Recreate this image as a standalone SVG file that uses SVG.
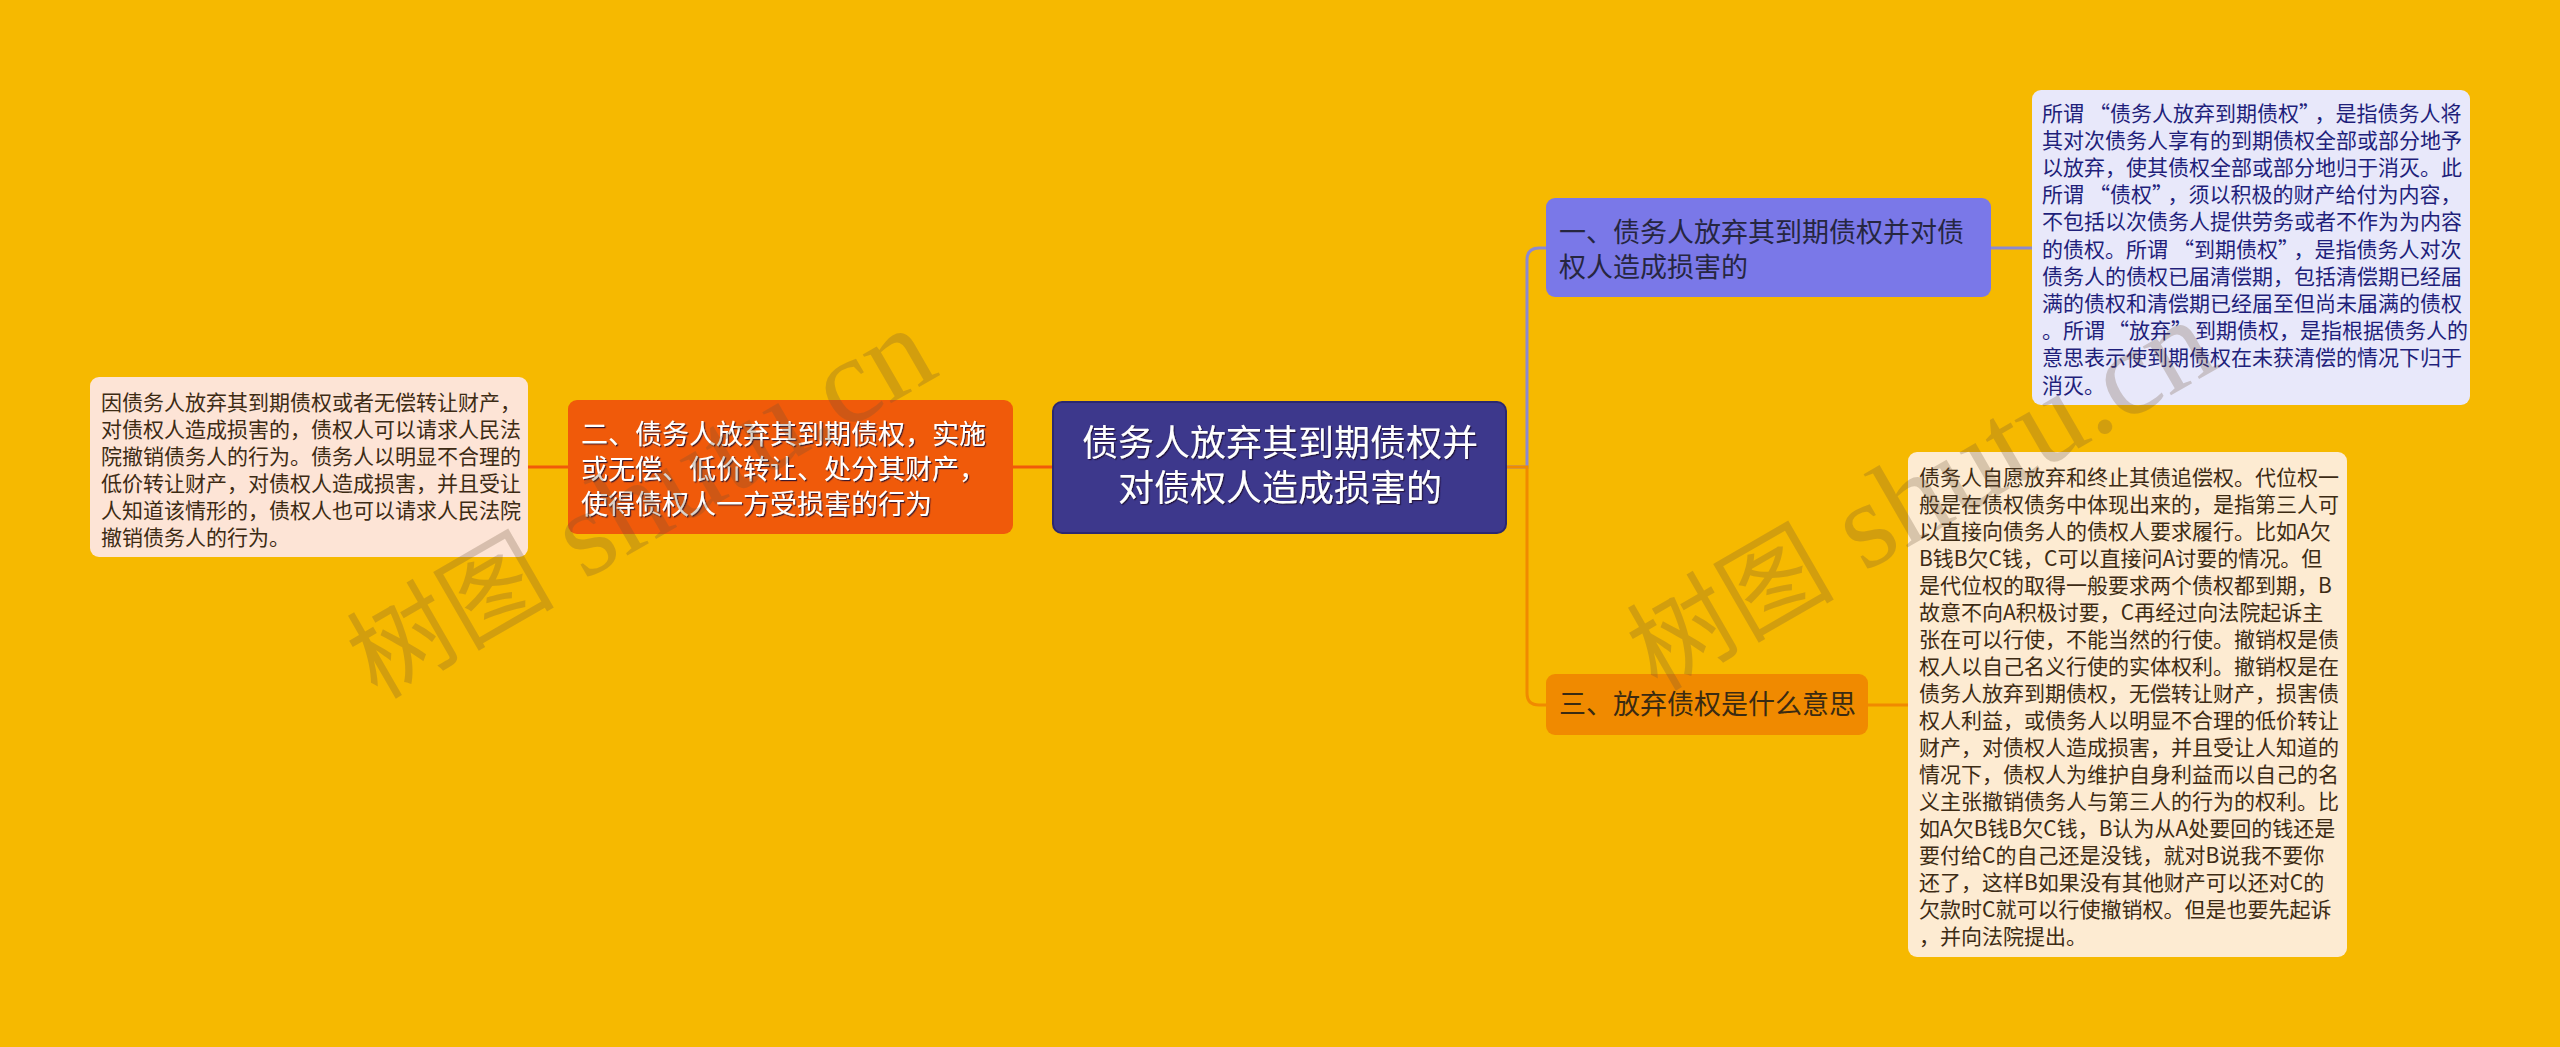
<svg xmlns="http://www.w3.org/2000/svg" width="2560" height="1047" viewBox="0 0 2560 1047">
<defs>
<style>
.t{font-family:"Noto Sans CJK SC","Noto Sans",sans-serif;}
.leaf{font-size:21px;}
.mid{font-size:27px;}
.root{font-size:36px;fill:#ffffff;}
.w{fill:#ffffff;}
.conn{fill:none;stroke-width:3;}
.wm{font-family:"Liberation Serif","Noto Sans CJK SC",serif;fill:#6b5238;opacity:0.25;}
</style>
<filter id="sh" x="-5%" y="-20%" width="110%" height="140%">
<feDropShadow dx="1.2" dy="1.2" stdDeviation="0.6" flood-color="#1a1030" flood-opacity="0.85"/>
</filter>
</defs>
<rect x="0" y="0" width="2560" height="1047" fill="#f6b900"/>

<g id="connectors">
<path class="conn" stroke="#8b89d2" d="M1506,467 H1527 V260 Q1527,248 1539,248 H1546"/>
<path class="conn" stroke="#f08a00" d="M1506,467 H1527 V693 Q1527,705 1539,705 H1546"/>
<path class="conn" stroke="#f05a0a" d="M1013,467 H1053"/>
<path class="conn" stroke="#f05a0a" d="M528,467 H568"/>
<path class="conn" stroke="#8b89d2" d="M1991,248 H2032"/>
<path class="conn" stroke="#f08a00" d="M1868,705 H1908"/>
</g>

<g id="root">
<rect x="1053" y="402" width="453" height="131" rx="9" fill="#3d388c" stroke="#2c2870" stroke-width="2"/>
<g filter="url(#sh)">
<text class="t root" x="1280" y="456" text-anchor="middle">债务人放弃其到期债权并</text>
<text class="t root" x="1280" y="501" text-anchor="middle">对债权人造成损害的</text>
</g>
</g>

<g id="branch1">
<rect x="1546" y="198" width="445" height="99" rx="9" fill="#7a78e8"/>
<text class="t mid" x="1559" y="242" fill="#262640">一、债务人放弃其到期债权并对债</text>
<text class="t mid" x="1559" y="277" fill="#262640">权人造成损害的</text>
</g>

<g id="branch2">
<rect x="568" y="400" width="445" height="134" rx="9" fill="#f05a0a"/>
<g filter="url(#sh)">
<text class="t mid w" x="581" y="444">二、债务人放弃其到期债权，实施</text>
<text class="t mid w" x="581" y="479">或无偿、低价转让、处分其财产，</text>
<text class="t mid w" x="581" y="514">使得债权人一方受损害的行为</text>
</g>
</g>

<g id="branch3">
<rect x="1546" y="674" width="322" height="61" rx="9" fill="#f08a00"/>
<text class="t mid" x="1559" y="714" fill="#3a2a12">三、放弃债权是什么意思</text>
</g>

<g id="leaf1">
<rect x="2032" y="90" width="438" height="315" rx="9" fill="#e8e8fa"/>
<g class="t leaf" fill="#1f1f7a">
<text x="2042" y="120.5">所谓<tspan dx="5">“</tspan>债务人放弃到期债权”<tspan dx="5">，</tspan>是指债务人将</text>
<text x="2042" y="147.7">其对次债务人享有的到期债权全部或部分地予</text>
<text x="2042" y="174.9">以放弃，使其债权全部或部分地归于消灭。此</text>
<text x="2042" y="202.1">所谓<tspan dx="5">“</tspan>债权”<tspan dx="5">，</tspan>须以积极的财产给付为内容，</text>
<text x="2042" y="229.3">不包括以次债务人提供劳务或者不作为为内容</text>
<text x="2042" y="256.5">的债权。所谓<tspan dx="5">“</tspan>到期债权”<tspan dx="5">，</tspan>是指债务人对次</text>
<text x="2042" y="283.7">债务人的债权已届清偿期，包括清偿期已经届</text>
<text x="2042" y="310.9">满的债权和清偿期已经届至但尚未届满的债权</text>
<text x="2042" y="338.1">。所谓<tspan dx="3">“</tspan>放弃”<tspan dx="3">到</tspan>期债权，是指根据债务人的</text>
<text x="2042" y="365.3">意思表示使到期债权在未获清偿的情况下归于</text>
<text x="2042" y="392.5">消灭。</text>
</g>
</g>

<g id="leaf2">
<rect x="90" y="377" width="438" height="180" rx="9" fill="#fde4d6"/>
<g class="t leaf" fill="#3d2b14">
<text x="101" y="409.5">因债务人放弃其到期债权或者无偿转让财产，</text>
<text x="101" y="436.5">对债权人造成损害的，债权人可以请求人民法</text>
<text x="101" y="463.5">院撤销债务人的行为。债务人以明显不合理的</text>
<text x="101" y="490.5">低价转让财产，对债权人造成损害，并且受让</text>
<text x="101" y="517.5">人知道该情形的，债权人也可以请求人民法院</text>
<text x="101" y="544.5">撤销债务人的行为。</text>
</g>
</g>

<g id="leaf3">
<rect x="1908" y="452" width="439" height="505" rx="9" fill="#fdebd2"/>
<g class="t leaf" fill="#3d2b14">
<text x="1919" y="484.5">债务人自愿放弃和终止其债追偿权。代位权一</text>
<text x="1919" y="511.5">般是在债权债务中体现出来的，是指第三人可</text>
<text x="1919" y="538.5">以直接向债务人的债权人要求履行。比如A欠</text>
<text x="1919" y="565.5">B钱B欠C钱，C可以直接问A讨要的情况。但</text>
<text x="1919" y="592.5">是代位权的取得一般要求两个债权都到期，B</text>
<text x="1919" y="619.5">故意不向A积极讨要，C再经过向法院起诉主</text>
<text x="1919" y="646.5">张在可以行使，不能当然的行使。撤销权是债</text>
<text x="1919" y="673.5">权人以自己名义行使的实体权利。撤销权是在</text>
<text x="1919" y="700.5">债务人放弃到期债权，无偿转让财产，损害债</text>
<text x="1919" y="727.5">权人利益，或债务人以明显不合理的低价转让</text>
<text x="1919" y="754.5">财产，对债权人造成损害，并且受让人知道的</text>
<text x="1919" y="781.5">情况下，债权人为维护自身利益而以自己的名</text>
<text x="1919" y="808.5">义主张撤销债务人与第三人的行为的权利。比</text>
<text x="1919" y="835.5">如A欠B钱B欠C钱，B认为从A处要回的钱还是</text>
<text x="1919" y="862.5">要付给C的自己还是没钱，就对B说我不要你</text>
<text x="1919" y="889.5">还了，这样B如果没有其他财产可以还对C的</text>
<text x="1919" y="916.5">欠款时C就可以行使撤销权。但是也要先起诉</text>
<text x="1919" y="943.5">，并向法院提出。</text>
</g>
</g>

<g id="watermark">
<text class="wm" transform="translate(377,700) rotate(-30)"><tspan font-size="104">树图</tspan><tspan font-size="123"> shutu.cn</tspan></text>
<text class="wm" transform="translate(1657,692) rotate(-30)"><tspan font-size="104">树图</tspan><tspan font-size="123"> shutu.cn</tspan></text>
</g>
</svg>
